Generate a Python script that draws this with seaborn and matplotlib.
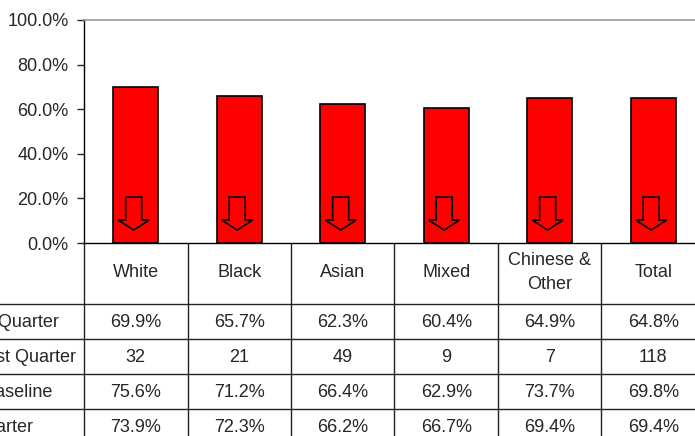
import matplotlib
matplotlib.use("Agg")
import matplotlib.pyplot as plt
import matplotlib.transforms as mtransforms
from matplotlib.patches import FancyArrow
from matplotlib.ticker import FuncFormatter
import seaborn as sns

# data
categories = ["White", "Black", "Asian", "Mixed", "Chinese &\nOther", "Total"]
current_quarter = [69.9, 65.7, 62.3, 60.4, 64.9, 64.8]
count_last_quarter = [32, 21, 49, 9, 7, 118]
baseline = [75.6, 71.2, 66.4, 62.9, 73.7, 69.8]
last_quarter = [73.9, 72.3, 66.2, 66.7, 69.4, 69.4]
row_labels = ["Current Quarter", "Total Last Quarter", "07/08 Baseline", "Last Quarter"]

sns.set_style("white")
plt.rcParams["font.family"] = ["Liberation Sans", "DejaVu Sans"]
plt.rcParams["font.size"] = 13

W, H = 695, 436
fig = plt.figure(figsize=(W / 100, H / 100), dpi=100)
# plot area in pixels: left 84, top 20, bottom 243, column width 103.5
ax = fig.add_axes([84 / W, 1 - 243 / H, 6 * 103.5 / W, 223 / H])

sns.barplot(x=list(range(len(categories))), y=current_quarter, color="#ff0000",
            saturation=1, width=0.43, edgecolor="black", linewidth=1.2, ax=ax)
ax.set_xlim(-0.5, len(categories) - 0.5)
ax.set_ylim(0, 100)
ax.set_yticks([0, 20, 40, 60, 80, 100])
ax.yaxis.set_major_formatter(FuncFormatter(lambda v, p: f"{v:.1f}%"))
ax.tick_params(axis="y", left=True, length=5, width=1, pad=6, labelsize=13)
ax.set_xticks([])
ax.set_xlabel("")
ax.set_ylabel("")
for s in ["top", "right"]:
    ax.spines[s].set_color("#999999")
    ax.spines[s].set_linewidth(1.2)
ax.spines["left"].set_color("black")
ax.spines["bottom"].set_color("black")
ax.spines["left"].set_linewidth(1)
ax.spines["bottom"].set_linewidth(1)

# trend arrows inside the bars (down when current quarter is below last quarter)
for i, (cur, prev) in enumerate(zip(current_quarter, last_quarter)):
    down = cur < prev
    y0, y1 = (20.6, 5.8) if down else (5.8, 20.6)
    arr = FancyArrow(i - 0.02, y0, 0, y1 - y0, width=0.155, head_width=0.30,
                     head_length=4.5, length_includes_head=True,
                     facecolor="none", edgecolor="black", linewidth=1.2)
    ax.add_patch(arr)

# data table under the chart
ppx = 1 / 223  # one pixel in axes-fraction units (vertical)
tr = mtransforms.blended_transform_factory(ax.transData, ax.transAxes)
header_h = 61
row_h = 35
row_tops = [header_h + k * row_h for k in range(len(row_labels) + 1)]
line_kw = dict(color="#222222", linewidth=1, clip_on=False)

# vertical separators
bottom_y = -(row_tops[-1] + 5) * ppx
for k in range(len(categories) + 1):
    ax.plot([k - 0.5, k - 0.5], [0, bottom_y], transform=tr, **line_kw)
# horizontal separators (extend to the left edge for the row labels)
for t in row_tops:
    ax.plot([-2.0, len(categories) - 0.5], [-t * ppx, -t * ppx], transform=tr, **line_kw)

for i, c in enumerate(categories):
    ax.text(i, -(header_h / 2 - 1) * ppx, c, transform=tr, ha="center", va="center",
            fontsize=13, linespacing=1.55)

rows = [
    [f"{v:.1f}%" for v in current_quarter],
    [str(v) for v in count_last_quarter],
    [f"{v:.1f}%" for v in baseline],
    [f"{v:.1f}%" for v in last_quarter],
]
for r, vals in enumerate(rows):
    yc = -(row_tops[r] + row_h / 2 + 1) * ppx
    for i, v in enumerate(vals):
        ax.text(i, yc, v, transform=tr, ha="center", va="center", fontsize=13)
    # row labels, left aligned, partly off the left edge of the image
    ax.text((-67 - 84) / (6 * 103.5), yc, row_labels[r], transform=ax.transAxes,
            ha="left", va="center", fontsize=13, clip_on=False)

fig.savefig("out.png", dpi=100)
